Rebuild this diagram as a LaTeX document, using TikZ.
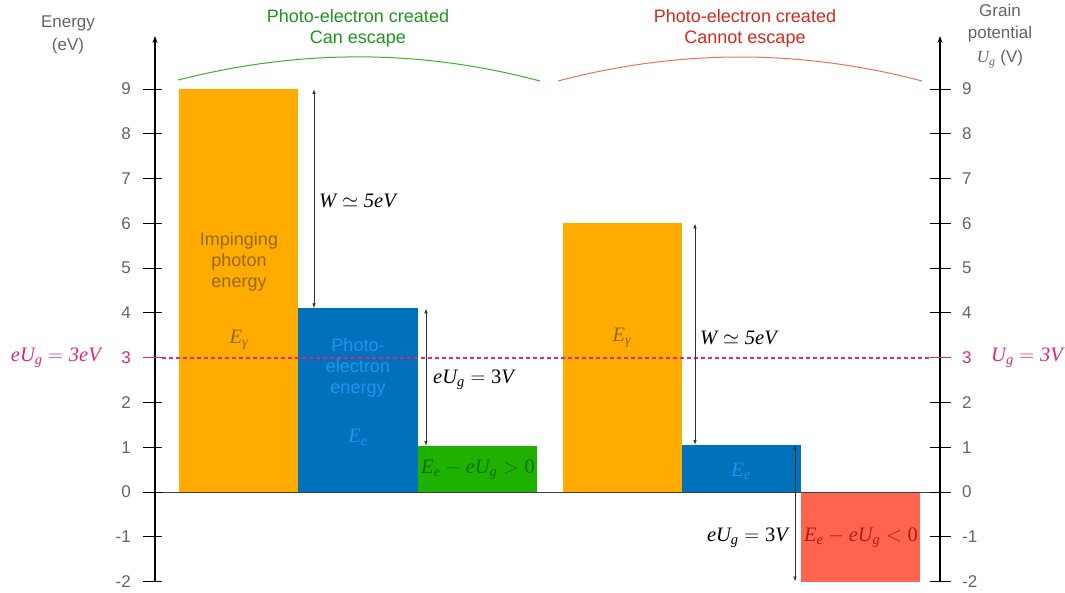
\documentclass[tikz,border=0pt]{standalone}
\usepackage{amsmath}
\usepackage{fontspec}
\setmainfont{Liberation Sans}
\newfontfamily\tms{Liberation Serif}
\newcommand\mv[1]{\text{\tms\itshape #1}}
\newcommand\mupr[1]{\text{\tms #1}}
\usetikzlibrary{arrows.meta}
\definecolor{barorange}{RGB}{255,171,0}
\definecolor{barblue}{RGB}{0,113,186}
\definecolor{bargreen}{RGB}{30,177,0}
\definecolor{barred}{RGB}{255,100,81}
\definecolor{dashpink}{RGB}{220,40,130}
\definecolor{txtgray}{RGB}{100,100,100}
\definecolor{txtgold}{RGB}{150,105,0}
\definecolor{txtlblue}{RGB}{30,150,240}
\definecolor{txtdgreen}{RGB}{20,110,10}
\definecolor{txtdred}{RGB}{170,30,20}
\definecolor{titlegreen}{RGB}{30,150,30}
\definecolor{titlered}{RGB}{215,40,30}
\definecolor{arcgreen}{RGB}{60,180,40}
\definecolor{arcred}{RGB}{240,110,90}
\definecolor{arrowgray}{RGB}{50,50,50}
\begin{document}
\begin{tikzpicture}[x=1pt,y=-1pt,
  sanslbl/.style={font=\fontsize{18}{21}\selectfont, align=center, inner sep=0pt},
  mathlbl/.style={font=\fontsize{20.5}{24}\selectfont, inner sep=0pt},
  axisline/.style={line width=1.1pt, -{Stealth[length=7pt,width=5pt]}},
  tickline/.style={line width=0.9pt},
  pinktick/.style={draw=dashpink, line width=1.6pt},
  pinkdashed/.style={draw=dashpink, line width=2pt, dash pattern=on 4pt off 3pt},
  dimarrow/.style={arrowgray, line width=0.8pt, {Latex[length=5pt,width=3.5pt]}-{Latex[length=5pt,width=3.5pt]}},
  ticklbl/.style={font=\fontsize{17}{21}\selectfont, text=txtgray, inner sep=0pt}
]
\path[use as bounding box] (0,0) rectangle (1065,592);

% bars
\coordinate (o1a) at (179,{492-44.78*9});   \coordinate (o1b) at (298,492);
\coordinate (b1a) at (298,{492-44.78*4.1}); \coordinate (b1b) at (418,492);
\coordinate (g1a) at (418,{492-44.78*1.03}); \coordinate (g1b) at (537,492);
\coordinate (o2a) at (563,{492-44.78*6});   \coordinate (o2b) at (682,492);
\coordinate (b2a) at (682,{492-44.78*1.05}); \coordinate (b2b) at (801,492);
\coordinate (r2a) at (801,492);              \coordinate (r2b) at (920,{492+44.78*2});
\fill[barorange] (o1a) rectangle (o1b);
\fill[barblue] (b1a) rectangle (b1b);
\fill[bargreen] (g1a) rectangle (g1b);
\fill[barorange] (o2a) rectangle (o2b);
\fill[barblue] (b2a) rectangle (b2b);
\fill[barred] (r2a) rectangle (r2b);

% axes
\coordinate (laxb) at (155,582); \coordinate (laxt) at (155,36);
\coordinate (raxb) at (940,582); \coordinate (raxt) at (940,36);
\draw[axisline] (laxb) -- (laxt);
\draw[axisline] (raxb) -- (raxt);
\coordinate (base0) at (155,492); \coordinate (base1) at (940,492);
\draw[line width=1pt, black!75] (base0) -- (base1);

\foreach \v in {-2,-1,0,1,2,4,5,6,7,8,9}{
  \draw[tickline] (143,{492-44.78*\v}) -- (162,{492-44.78*\v});
  \draw[tickline] (930,{492-44.78*\v}) -- (951,{492-44.78*\v});
  \node[ticklbl, anchor=east] (ll\v) at (131,{492-44.78*\v}) {\v};
  \node[ticklbl, anchor=west] (rl\v) at (962,{492-44.78*\v}) {\v};
}
\coordinate (lt3a) at (143,357.5); \coordinate (lt3b) at (162,357.5);
\coordinate (rt3a) at (930,357.5); \coordinate (rt3b) at (951,357.5);
\draw[pinktick] (lt3a) -- (lt3b);
\draw[pinktick] (rt3a) -- (rt3b);
\node[ticklbl, anchor=east, text=dashpink] (ll3) at (131,357.5) {3};
\node[ticklbl, anchor=west, text=dashpink] (rl3) at (962,357.5) {3};

% dashed line
\draw[pinkdashed] (lt3b) -- (rt3a);
\node[mathlbl, text=dashpink, anchor=east] (eug) at (101,357.5) {$\mv{eU}_{\mv{g}} = \mv{3eV}$};
\node[mathlbl, text=dashpink, anchor=west] (ug) at (991,357.5) {$\mv{U}_{\mv{g}} = \mv{3V}$};

% axis titles
\node[sanslbl, text=txtgray, font=\fontsize{17}{23}\selectfont] (ytitle) at (68,35) {Energy\\(eV)};
\node[sanslbl, text=txtgray, anchor=north, font=\fontsize{17}{22}\selectfont] (y2title) at (1000,4) {Grain\\potential\\[2pt]$\mv{U}_{\mv{g}}$ (V)};

% top titles and arcs
\node[sanslbl, text=titlegreen] (tg) at (358,28) {Photo-electron created\\Can escape};
\node[sanslbl, text=titlered] (tr) at (745,28) {Photo-electron created\\Cannot escape};
\coordinate (ag0) at (178,80); \coordinate (ag1) at (540,81);
\coordinate (ar0) at (558,81); \coordinate (ar1) at (922,81);
\draw[arcgreen, line width=1pt] (ag0) .. controls (300,49) and (420,49) .. (ag1);
\draw[arcred, line width=1pt] (ar0) .. controls (680,49) and (800,49) .. (ar1);

% labels inside bars
\node[sanslbl, text=txtgold] (imp) at (239,262) {Impinging\\photon\\energy};
\node[mathlbl, text=txtgold] (eg1) at (239,340) {$\mv{E}_{\mv{γ}}$};
\node[sanslbl, text=txtlblue] (phe) at (358,368) {Photo-\\electron\\energy};
\node[mathlbl, text=txtlblue] (ee1) at (358,437) {$\mv{E}_{\mv{e}}$};
\node[mathlbl, text=txtdgreen] (gt) at (478,470) {$\mv{E}_{\mv{e}} - \mv{eU}_{\mv{g}} > \mupr{0}$};
\node[mathlbl, text=txtgold] (eg2) at (622,338) {$\mv{E}_{\mv{γ}}$};
\node[mathlbl, text=txtlblue] (ee2) at (741,471) {$\mv{E}_{\mv{e}}$};
\node[mathlbl, text=txtdred] (rt) at (861,538) {$\mv{E}_{\mv{e}} - \mv{eU}_{\mv{g}} < \mupr{0}$};

% dimension arrows
\coordinate (d1t) at (314,{492-44.78*9}); \coordinate (d1b) at (314,{492-44.78*4.1});
\coordinate (d2t) at (426,{492-44.78*4.1}); \coordinate (d2b) at (426,{492-44.78*1.03});
\coordinate (d3t) at (695,{492-44.78*6}); \coordinate (d3b) at (695,{492-44.78*1.05});
\coordinate (d4t) at (795,{492-44.78*1.05}); \coordinate (d4b) at (795,{492+44.78*2});
\draw[dimarrow] (d1t) -- (d1b);
\draw[dimarrow] (d2t) -- (d2b);
\draw[dimarrow] (d3t) -- (d3b);
\draw[dimarrow] (d4t) -- (d4b);
\node[mathlbl, anchor=west] (w1) at (319,201) {$\mv{W} \simeq \mv{5eV}$};
\node[mathlbl, anchor=west] (u1) at (433,380) {$\mv{eU}_{\mv{g}} = \mupr{3}\mv{V}$};
\node[mathlbl, anchor=west] (w2) at (700,338) {$\mv{W} \simeq \mv{5eV}$};
\node[mathlbl, anchor=east] (u2) at (788,538) {$\mv{eU}_{\mv{g}} = \mupr{3}\mv{V}$};
\end{tikzpicture}
\end{document}
